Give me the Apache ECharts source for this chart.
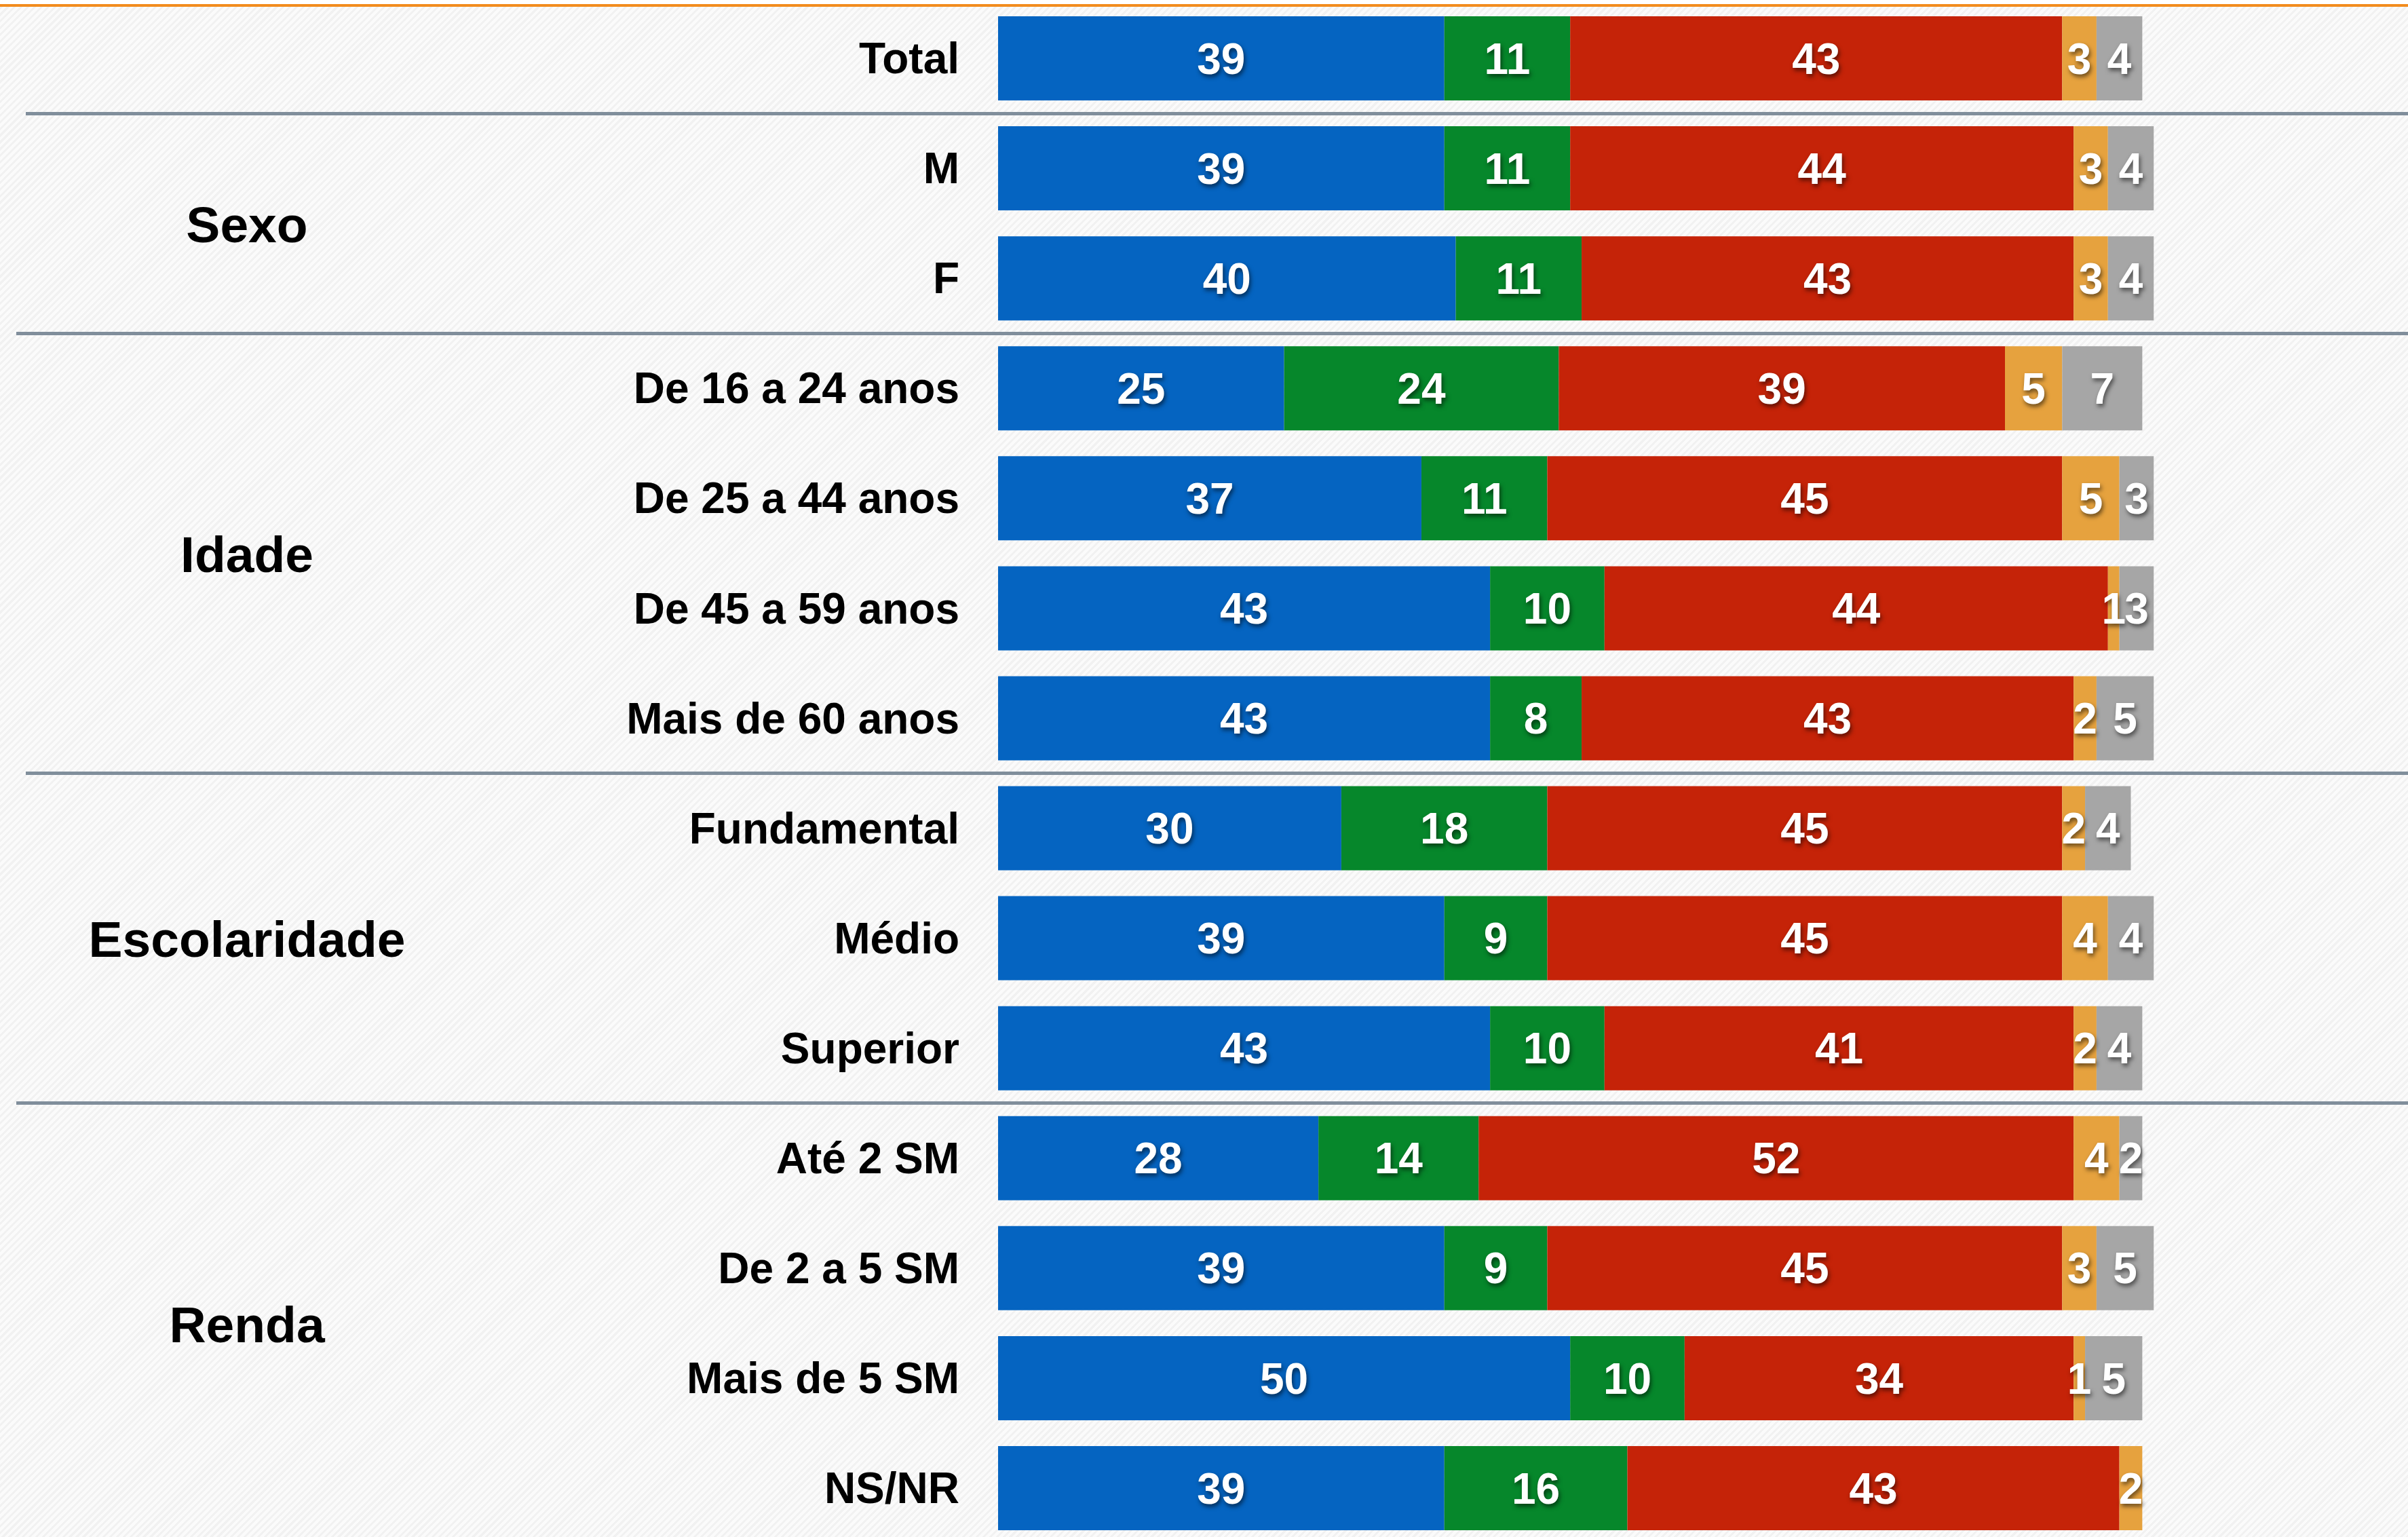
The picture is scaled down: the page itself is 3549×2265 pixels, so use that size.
<!DOCTYPE html>
<html><head><meta charset="utf-8">
<script src="https://cdn.jsdelivr.net/npm/echarts@6/dist/echarts.min.js"></script>
<style>
html,body{margin:0;padding:0;background:#fff;}
#wrap{position:relative;width:3549px;height:2265px;overflow:hidden;
background:repeating-linear-gradient(135deg,#f1f1f1 0px,#f1f1f1 3px,#fbfbfb 3px,#fbfbfb 7px);}
#topband{position:absolute;left:0;top:0;width:100%;height:6px;background:#fff;}
#rule{position:absolute;left:0;top:6px;width:100%;height:4px;background:#F28C1E;}
#chart{position:absolute;left:0;top:0;width:3549px;height:2290px;}
</style></head><body>
<div id="wrap"><div id="topband"></div><div id="rule"></div><div id="chart"></div></div>
<script>
const categories = ['Total','M','F','De 16 a 24 anos','De 25 a 44 anos','De 45 a 59 anos','Mais de 60 anos','Fundamental','Médio','Superior','Até 2 SM','De 2 a 5 SM','Mais de 5 SM','NS/NR'];
const groupNames = ['Sexo','Idade','Escolaridade','Renda'];
const groupFirstRow = [1,3,7,10];
const groupLastRow = [2,6,9,13];
const seriesBlue   = [39,39,40,25,37,43,43,30,39,43,28,39,50,39];
const seriesGreen  = [11,11,11,24,11,10,8,18,9,10,14,9,10,16];
const seriesRed    = [43,44,43,39,45,44,43,45,45,41,52,45,34,43];
const seriesOrange = [3,3,3,5,5,1,2,2,4,2,4,3,1,2];
const seriesGray   = [4,4,4,7,3,3,5,4,4,4,2,5,5,0];

const FONT = 'Liberation Sans, Arial, Helvetica, sans-serif';
const colors = ['#0564C1','#06872B','#C52308','#E6A23E','#A6A6A6'];
const seriesData = [seriesBlue, seriesGreen, seriesRed, seriesOrange, seriesGray];
const seriesNames = ['Série 1','Série 2','Série 3','Série 4','Série 5'];

const gridTop = 5, gridHeight = 2269;

const barSeries = seriesData.map((d, i) => ({
  name: seriesNames[i],
  type: 'bar',
  stack: 'total',
  xAxisIndex: 0, yAxisIndex: 0,
  barWidth: 124,
  data: d,
  itemStyle: { color: colors[i] },
  label: {
    show: true,
    position: 'inside',
    offset: [0, 5],
    color: '#fff',
    fontFamily: FONT,
    fontWeight: 'bold',
    fontSize: 64,
    textShadowColor: 'rgba(0,0,0,0.55)',
    textShadowBlur: 6,
    textShadowOffsetX: 2,
    textShadowOffsetY: 4,
    formatter: p => (p.value === 0 ? '' : String(p.value))
  }
}));

function sepSeries(gridIdx, parity) {
  return {
    type: 'line',
    xAxisIndex: gridIdx, yAxisIndex: gridIdx,
    data: [[0, 0]],
    showSymbol: false,
    symbol: 'none',
    lineStyle: { opacity: 0 },
    silent: true,
    markLine: {
      silent: true,
      symbol: ['none', 'none'],
      label: { show: false },
      lineStyle: { color: '#808E9B', width: 5, type: 'solid' },
      data: groupFirstRow.filter((_, i) => i % 2 === parity).map(r => ({ yAxis: r }))
    }
  };
}

function groupLabel(v) {
  for (let i = 0; i < groupNames.length; i++) {
    const c = (groupFirstRow[i] + groupLastRow[i] + 1) / 2;
    if (Math.abs(c - v) < 1e-6) return groupNames[i];
  }
  return '';
}

const chart = echarts.init(document.getElementById('chart'), null, { renderer: 'canvas' });
chart.setOption({
  animation: false,
  backgroundColor: 'transparent',
  grid: [
    { left: 1471, top: gridTop, width: 1855, height: gridHeight },
    { left: 38, right: 0, top: gridTop, height: gridHeight },
    { left: 24, right: 0, top: gridTop, height: gridHeight }
  ],
  xAxis: [
    { type: 'value', gridIndex: 0, min: 0, max: 110, show: false },
    { type: 'value', gridIndex: 1, min: 0, max: 1, show: false },
    { type: 'value', gridIndex: 2, min: 0, max: 1, show: false }
  ],
  yAxis: [
    {
      type: 'category', gridIndex: 0, inverse: true, data: categories,
      axisLine: { show: false }, axisTick: { show: false }, splitLine: { show: false },
      axisLabel: { color: '#000', fontFamily: FONT, fontWeight: 'bold', fontSize: 64, margin: 57, interval: 0,
                   verticalAlign: 'top', lineHeight: 9 }
    },
    {
      type: 'value', gridIndex: 1, inverse: true, min: 0, max: categories.length, interval: 0.5,
      axisLine: { show: false }, axisTick: { show: false }, splitLine: { show: false },
      axisLabel: {
        show: true, inside: true, align: 'center', margin: 326,
        color: '#000', fontFamily: FONT, fontWeight: 'bold', fontSize: 75,
        verticalAlign: 'top', lineHeight: 14,
        formatter: groupLabel
      }
    },
    {
      type: 'value', gridIndex: 2, inverse: true, min: 0, max: categories.length,
      show: false
    }
  ],
  series: [...barSeries, sepSeries(1, 0), sepSeries(2, 1)]
});
</script>
</body></html>
